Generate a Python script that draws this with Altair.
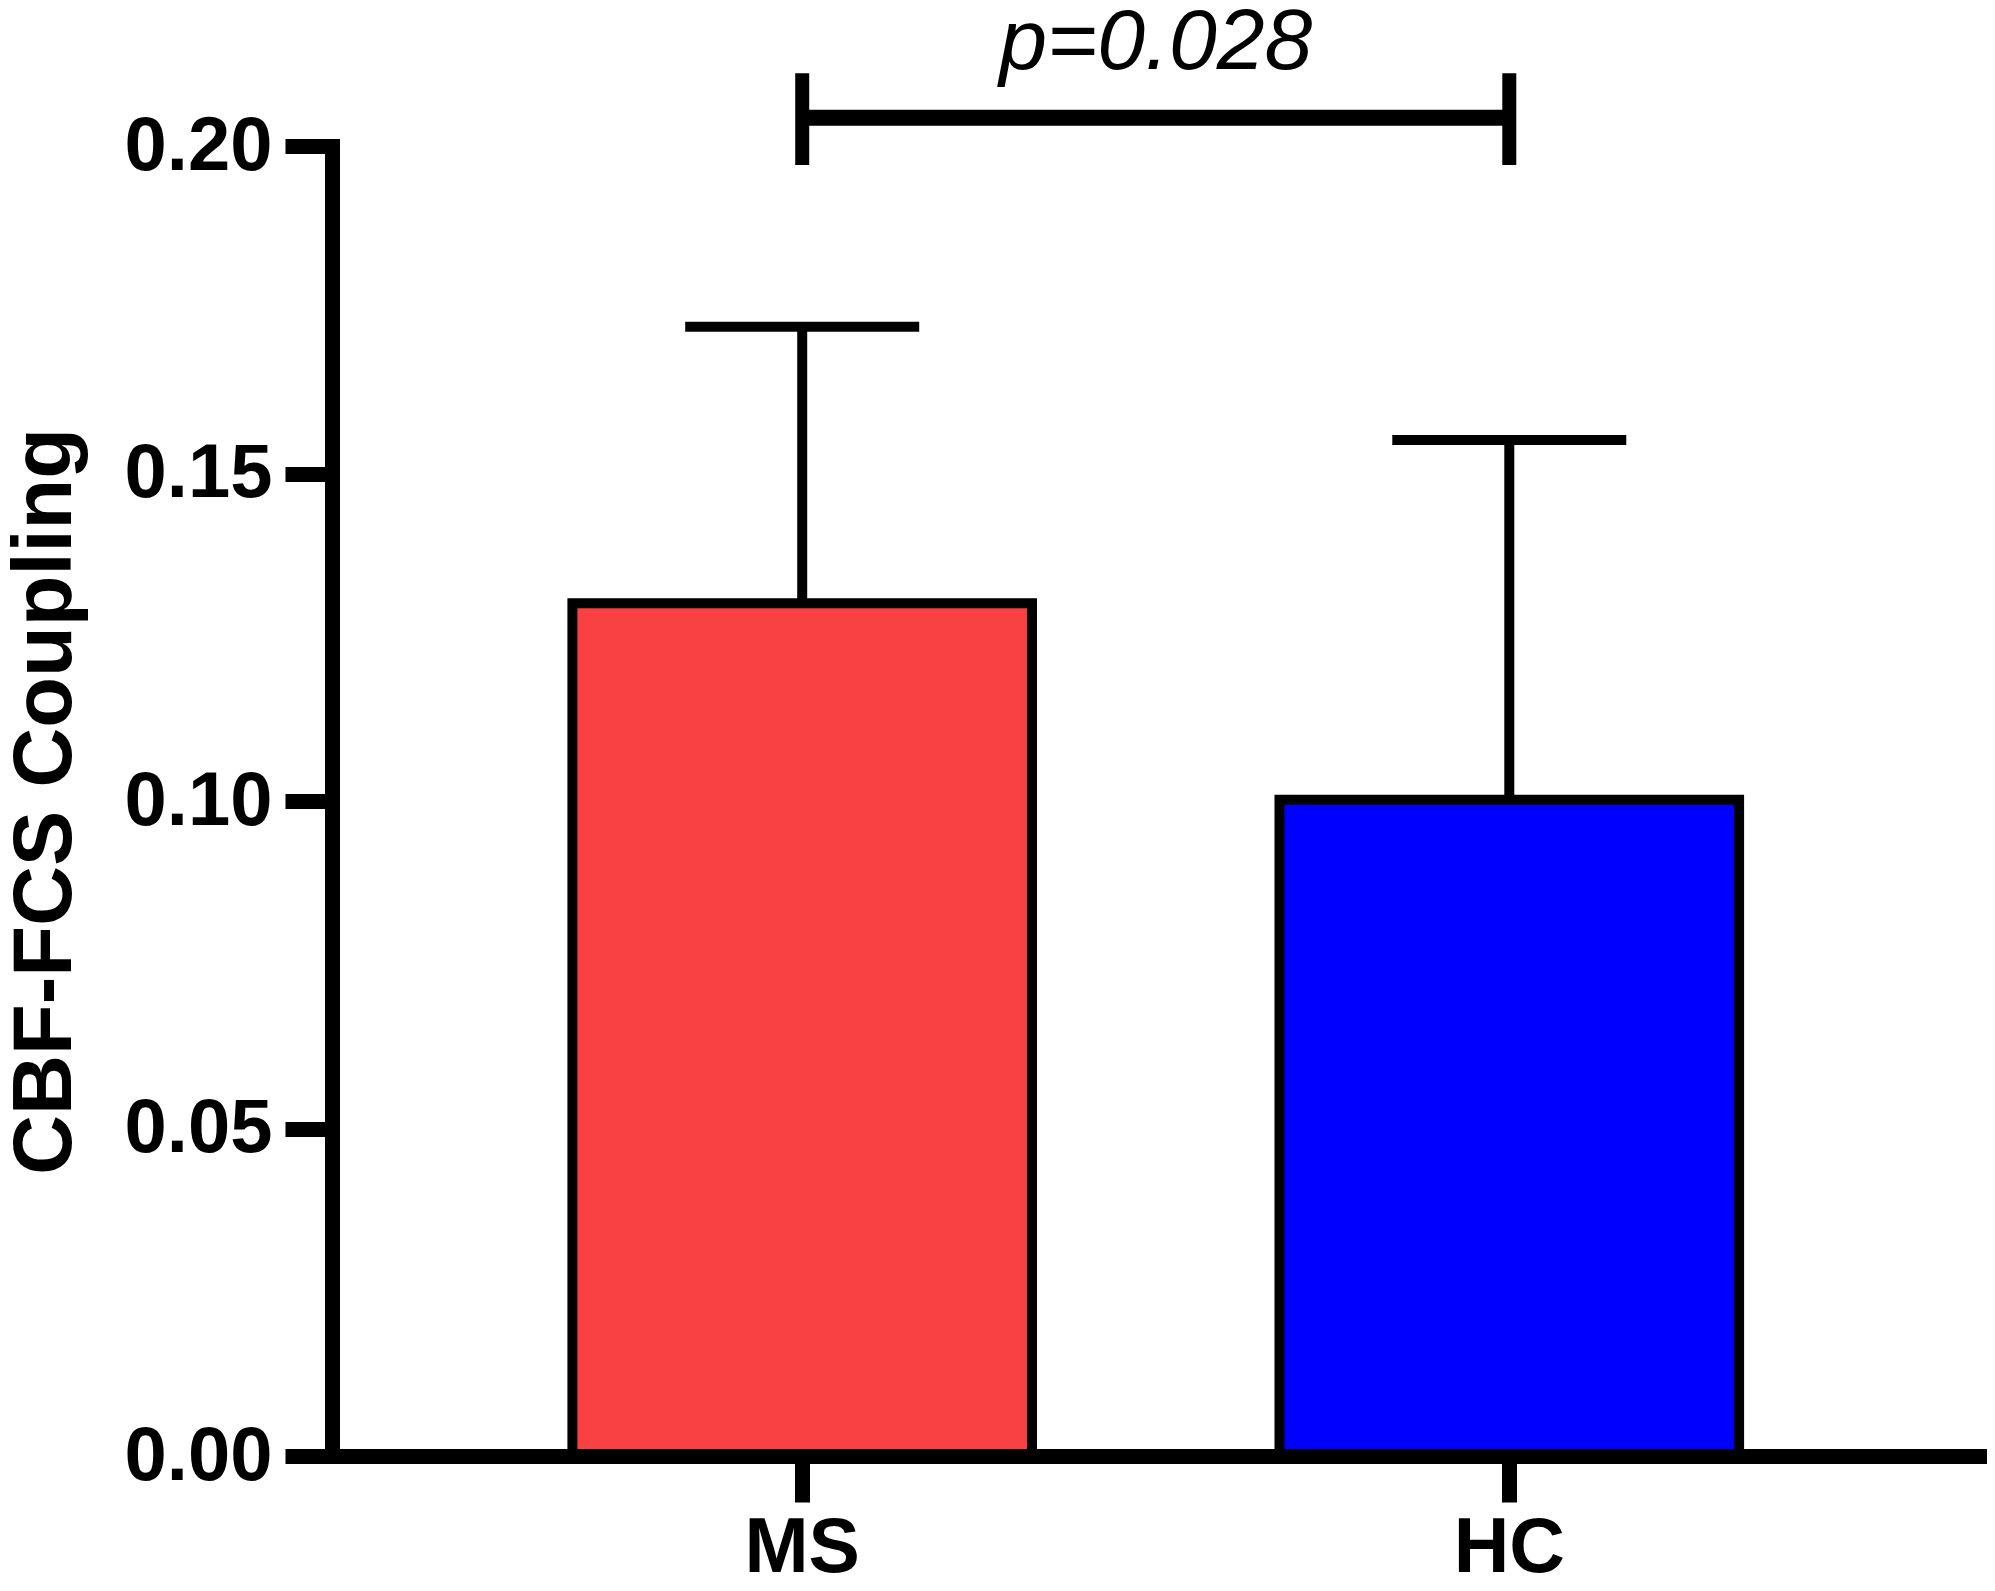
import altair as alt
import pandas as pd

# ---- data ----
groups = ["MS", "HC"]
means = [0.1302, 0.1002]
sds = [0.0422, 0.0549]
bar_colors = ["#F94144", "#0000FF"]
y_ticks = [0.0, 0.05, 0.10, 0.15, 0.20]

# significance bracket (data units)
bracket_groups = ["MS", "HC"]
bracket_level = 0.2043
bracket_low = 0.1971
bracket_high = 0.2111
p_label = "p=0.028"

df = pd.DataFrame({
    "group": groups,
    "mean": means,
    "upper": [m + s for m, s in zip(means, sds)],
})
br_h = pd.DataFrame({"g1": [bracket_groups[0]], "g2": [bracket_groups[1]], "y": [bracket_level]})
br_v = pd.DataFrame({"group": bracket_groups, "lo": [bracket_low] * 2, "hi": [bracket_high] * 2})

FONT = "Liberation Sans"

xscale = alt.Scale(domain=groups, paddingInner=0.35, paddingOuter=0.34)
yscale = alt.Scale(domain=[0, 0.2], nice=False, zero=True)

x_enc = alt.X(
    "group:N",
    scale=xscale,
    sort=groups,
    title=None,
    axis=alt.Axis(
        labelAngle=0,
        labelAlign="center",
        labelFont=FONT,
        labelFontWeight="bold",
        labelFontSize=77,
        labelColor="black",
        labelPadding=46,
        tickSize=46,
        tickWidth=15,
        tickColor="black",
        domainColor="black",
        domainWidth=15,
        domainCap="square",
        zindex=1,
    ),
)
y_enc = alt.Y(
    "mean:Q",
    scale=yscale,
    title="CBF-FCS Coupling",
    axis=alt.Axis(
        values=y_ticks,
        format=".2f",
        grid=False,
        labelFont=FONT,
        labelFontWeight="bold",
        labelFontSize=76,
        labelColor="black",
        labelPadding=13,
        tickSize=47,
        tickWidth=15,
        tickColor="black",
        domainColor="black",
        domainWidth=15,
        domainCap="square",
        titleFont=FONT,
        titleFontWeight="bold",
        titleFontSize=83,
        titleColor="black",
        titleBaseline="alphabetic",
        titleAlign="center",
        titleX=-262,
        titleY=655,
        zindex=1,
    ),
)

bars = alt.Chart(df).mark_bar(stroke="black", strokeWidth=10).encode(
    x=x_enc,
    y=y_enc,
    color=alt.Color("group:N", scale=alt.Scale(domain=groups, range=bar_colors), legend=None),
)

whisker = alt.Chart(df).mark_rule(color="black", strokeWidth=10).encode(
    x=alt.X("group:N", scale=xscale, sort=groups),
    y=alt.Y("mean:Q", scale=yscale),
    y2="upper:Q",
)

caps = alt.Chart(df).mark_tick(color="black", size=234, thickness=10, opacity=1).encode(
    x=alt.X("group:N", scale=xscale, sort=groups),
    y=alt.Y("upper:Q", scale=yscale),
)

bracket_h = alt.Chart(br_h).mark_rule(color="black", strokeWidth=16).encode(
    x=alt.X("g1:N", scale=xscale),
    x2="g2:N",
    y=alt.Y("y:Q", scale=yscale),
)

bracket_v = alt.Chart(br_v).mark_rule(color="black", strokeWidth=14).encode(
    x=alt.X("group:N", scale=xscale),
    y=alt.Y("lo:Q", scale=yscale),
    y2="hi:Q",
)

chart = (
    alt.layer(whisker, caps, bars, bracket_h, bracket_v)
    .properties(
        width=1647.5,
        height=1310,
        padding={"left": 324, "top": 138, "right": 7, "bottom": 127},
        autosize=alt.AutoSizeParams(type="none"),
        background="white",
        title=alt.TitleParams(
            p_label,
            font=FONT,
            fontSize=86,
            fontStyle="italic",
            fontWeight="normal",
            color="black",
            anchor="middle",
            frame="group",
            offset=-21,
        ),
    )
    .configure_view(strokeWidth=0)
)

chart.save("out.html", embed_options={"renderer": "svg", "actions": False})
